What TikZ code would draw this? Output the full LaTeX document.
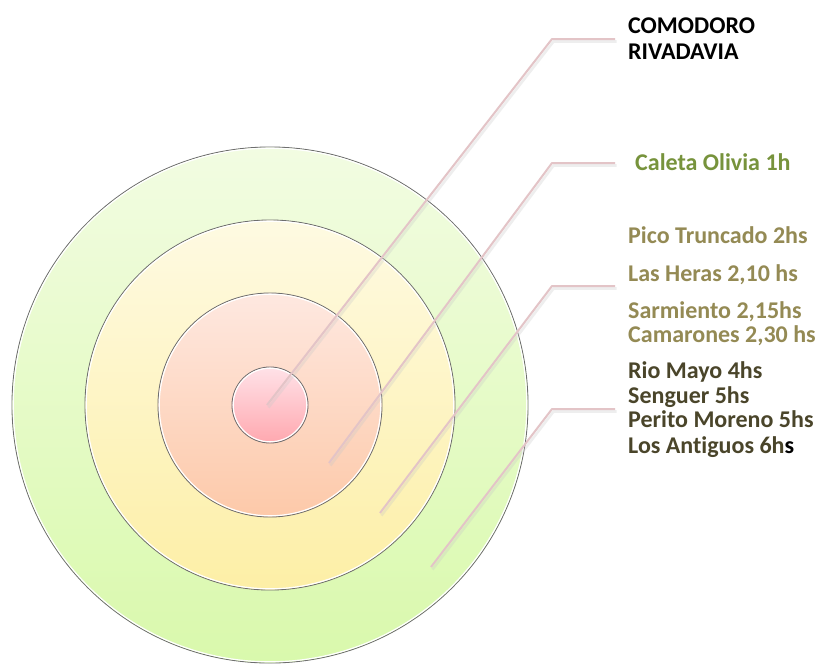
\documentclass[tikz,border=0pt]{standalone}
\usepackage{fontspec}
\setmainfont{Carlito}[Ligatures=NoCommon]
\usetikzlibrary{calc}
\definecolor{ringedge}{HTML}{6E6E6E}
\definecolor{leadc}{HTML}{E3C4C7}
\definecolor{shadc}{HTML}{C8C8C8}
\definecolor{greentxt}{HTML}{77933C}
\definecolor{olivetxt}{HTML}{948A54}
\definecolor{darktxt}{HTML}{4A452A}
\definecolor{g1}{HTML}{F2FCE2}
\definecolor{g2}{HTML}{D9F9AC}
\definecolor{y1}{HTML}{FEFAE2}
\definecolor{y2}{HTML}{FDEFA6}
\definecolor{p1}{HTML}{FEE8E0}
\definecolor{p2}{HTML}{FDC9A9}
\definecolor{r1}{HTML}{FFE2E8}
\definecolor{r2}{HTML}{FFA8AF}
\begin{document}
\begin{tikzpicture}[x=1pt,y=-1pt,
  ring/.style={draw=ringedge,line width=0.9pt},
  ringglow/.style={draw=white,line width=1.2pt},
  leader/.style={draw=leadc,line width=2pt,line join=round},
  leadshadow/.style={draw=shadc,line width=2.6pt,opacity=0.3,line join=round},
  lbl/.style={anchor=base west,inner sep=0pt,font=\fontsize{24}{28}\selectfont\bfseries}]
\useasboundingbox[fill=white] (0,0) rectangle (818,664);
\coordinate (c) at (270,405);
% rings
\path[ring,top color=g1,bottom color=g2] (c) circle (258);
\draw[ringglow] (c) circle (256.8);
\path[ring,top color=y1,bottom color=y2] (c) circle (185);
\draw[ringglow] (c) circle (183.8);
\path[ring,top color=p1,bottom color=p2] (c) circle (112);
\draw[ringglow] (c) circle (110.8);
\path[ring,top color=r1,bottom color=r2] (c) circle (38);
\draw[ringglow] (c) circle (36.8);
% labels
\node[lbl] (t1) at (628,33) {COMODORO};
\node[lbl] (t2) at (628,59) {RIVADAVIA};
\node[lbl,text=greentxt] (t3) at (635,170) {Caleta Olivia 1h};
\node[lbl,text=olivetxt] (t4) at (628,243) {Pico Truncado 2hs};
\node[lbl,text=olivetxt] (t5) at (628,281) {Las Heras 2,10 hs};
\node[lbl,text=olivetxt] (t6) at (628,318) {Sarmiento 2,15hs};
\node[lbl,text=olivetxt] (t7) at (628,342) {Camarones 2,30 hs};
\node[lbl,text=darktxt] (t8) at (628,378) {Rio Mayo 4hs};
\node[lbl,text=darktxt] (t9) at (628,403) {Senguer 5hs};
\node[lbl,text=darktxt] (t10) at (628,427) {Perito Moreno 5hs};
\node[lbl,text=darktxt] (t11) at (628,453) {Los Antiguos 6h\textcolor{black}{s}};
% leader points
\coordinate (s1) at (267,405); \coordinate (e1) at (552,39); \coordinate (f1) at (615,39);
\coordinate (s2) at (329,463); \coordinate (e2) at (552,163); \coordinate (f2) at (615,163);
\coordinate (s3) at (380,513); \coordinate (e3) at (552,286); \coordinate (f3) at (615,286);
\coordinate (s4) at (431,567); \coordinate (e4) at (552,409); \coordinate (f4) at (615,409);
\foreach \i in {1,2,3,4}{
  \draw[leadshadow] ($(s\i)+(1.5,2.5)$) -- ($(e\i)+(1.5,2.5)$) -- ($(f\i)+(1.5,2.5)$);
  \draw[leader] (s\i) -- (e\i) -- (f\i);
}
\end{tikzpicture}
\end{document}
